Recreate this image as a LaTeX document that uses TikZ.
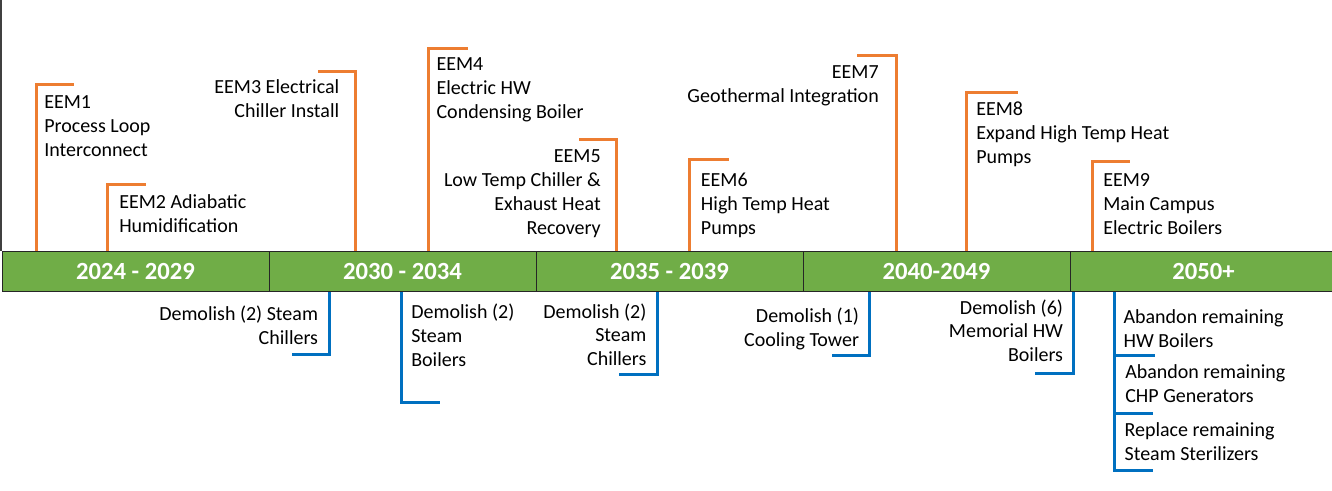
\documentclass[tikz,border=0pt]{standalone}
\usepackage{fontspec}
\setmainfont{Carlito}
\definecolor{eemorange}{HTML}{ED7D31}
\definecolor{demoblue}{HTML}{0070C0}
\definecolor{bargreen}{HTML}{70AD47}
\tikzset{
  eem/.style={draw=eemorange, line width=2.25pt, line join=miter},
  demo/.style={draw=demoblue, line width=2.25pt, line join=miter},
  seg/.style={draw=black!85, line width=0.75pt, fill=bargreen, minimum width=200.25pt,
    minimum height=30pt, inner sep=0pt, text=white, font=\fontsize{18.5}{20}\selectfont\bfseries},
  lbl/.style={inner sep=0pt, font=\fontsize{15}{17.8}\selectfont, text=black},
  lblL/.style={lbl, align=left, anchor=base west},
  lblR/.style={lbl, align=right, anchor=base east},
}
\begin{document}
\begin{tikzpicture}[x=0.75pt,y=-0.75pt]
\useasboundingbox (0,0) rectangle (1332,490);
\fill[white] (0,0) rectangle (1332,490);
% left border
\coordinate (lt) at (1,0);
\coordinate (lb) at (1,251);
\draw[black!75, line width=1.2pt] (lt) -- (lb);

% bar segments
\path (135.5,271) node[seg] (s1) {2024 - 2029}
      (402.5,271) node[seg] (s2) {2030 - 2034}
      (669.5,271) node[seg] (s3) {2035 - 2039}
      (936.5,271) node[seg] (s4) {2040-2049}
      (1203.5,271) node[seg] (s5) {2050+};

% ---------- EEM connectors (top) ----------
\coordinate (c1) at (36,84);      \coordinate (t1) at (74,84);
\coordinate (c2) at (107.7,184);  \coordinate (t2) at (146,184);
\coordinate (c3) at (355.7,71);   \coordinate (t3) at (318,71);
\coordinate (c4) at (428.5,48.5); \coordinate (t4) at (467.7,48.5);
\coordinate (c5) at (616.7,139.7);\coordinate (t5) at (579.3,139.7);
\coordinate (c6) at (689,159.7);  \coordinate (t6) at (729,159.7);
\coordinate (c7) at (896,55.7);   \coordinate (t7) at (857.3,55.7);
\coordinate (c8) at (966.7,92.3); \coordinate (t8) at (1018.3,92.3);
\coordinate (c9) at (1092,161.7); \coordinate (t9) at (1129.7,161.7);

\draw[eem] (c1 |- s1.north) -- (c1) -- (t1);
\draw[eem] (c2 |- s1.north) -- (c2) -- (t2);
\draw[eem] (c3 |- s2.north) -- (c3) -- (t3);
\draw[eem] (c4 |- s2.north) -- (c4) -- (t4);
\draw[eem] (c5 |- s3.north) -- (c5) -- (t5);
\draw[eem] (c6 |- s3.north) -- (c6) -- (t6);
\draw[eem] (c7 |- s4.north) -- (c7) -- (t7);
\draw[eem] (c8 |- s4.north) -- (c8) -- (t8);
\draw[eem] (c9 |- s5.north) -- (c9) -- (t9);

% (anchors are at the baseline of the last line)
\node[lblL] (l1) at (44,156) {EEM1\\Process Loop\\Interconnect};
\node[lblL] (l2) at (119,232.7) {EEM2 Adiabatic\\Humidification};
\node[lblR] (l3) at (339.5,117.7) {EEM3 Electrical\\Chiller Install};
\node[lblL] (l4) at (436.3,118.3) {EEM4\\Electric HW\\Condensing Boiler};
\node[lblR] (l5) at (601,234) {EEM5\\Low Temp Chiller \&\\Exhaust Heat\\Recovery};
\node[lblL] (l6) at (700.7,234.3) {EEM6\\High Temp Heat\\Pumps};
\node[lblR] (l7) at (879,102.7) {EEM7\\Geothermal Integration};
\node[lblL] (l8) at (976,163.3) {EEM8\\Expand High Temp Heat\\Pumps};
\node[lblL] (l9) at (1103,234) {EEM9\\Main Campus\\Electric Boilers};

% ---------- Demolition connectors (bottom) ----------
\coordinate (dA) at (329.7,354);   \coordinate (eA) at (291.7,354);
\coordinate (dB) at (401.2,402.8); \coordinate (eB) at (440,402.8);
\coordinate (dC) at (657.2,374.2); \coordinate (eC) at (619.3,374.2);
\coordinate (dD) at (869.8,355.2); \coordinate (eD) at (831.7,355.2);
\coordinate (dE) at (1073.8,373.8);\coordinate (eE) at (1035.3,373.8);
\coordinate (dF) at (1114.8,470.5);\coordinate (eF) at (1152.7,470.5);
\coordinate (kF1) at (1114.8,355.8); \coordinate (kF1e) at (1155,355.8);
\coordinate (kF2) at (1114.8,413.8); \coordinate (kF2e) at (1152.7,413.8);

\draw[demo] (dA |- s2.south) -- (dA) -- (eA);
\draw[demo] (dB |- s2.south) -- (dB) -- (eB);
\draw[demo] (dC |- s3.south) -- (dC) -- (eC);
\draw[demo] (dD |- s4.south) -- (dD) -- (eD);
\draw[demo] (dE |- s5.south) -- (dE) -- (eE);
\draw[demo] (dF |- s5.south) -- (dF) -- (eF);
\draw[demo] (kF1) -- (kF1e);
\draw[demo] (kF2) -- (kF2e);

\node[lblR] (mA) at (318.3,344) {Demolish (2) Steam\\Chillers};
\node[lblL] (mB) at (411,366) {Demolish (2)\\Steam\\Boilers};
\node[lblR] (mC) at (646.7,365.7) {Demolish (2)\\Steam\\Chillers};
\node[lblR] (mD) at (859.3,346) {Demolish (1)\\Cooling Tower};
\node[lblR] (mE) at (1063.3,361.7) {Demolish (6)\\Memorial HW\\Boilers};
\node[lblL] (mF1) at (1123.3,347.7) {Abandon remaining\\HW Boilers};
\node[lblL] (mF2) at (1125,402.7) {Abandon remaining\\CHP Generators};
\node[lblL] (mF3) at (1124.3,460.3) {Replace remaining\\Steam Sterilizers};

% redraw bar on top of connector feet
\path (135.5,271) node[seg] {2024 - 2029}
      (402.5,271) node[seg] {2030 - 2034}
      (669.5,271) node[seg] {2035 - 2039}
      (936.5,271) node[seg] {2040-2049}
      (1203.5,271) node[seg] {2050+};
\end{tikzpicture}
\end{document}
